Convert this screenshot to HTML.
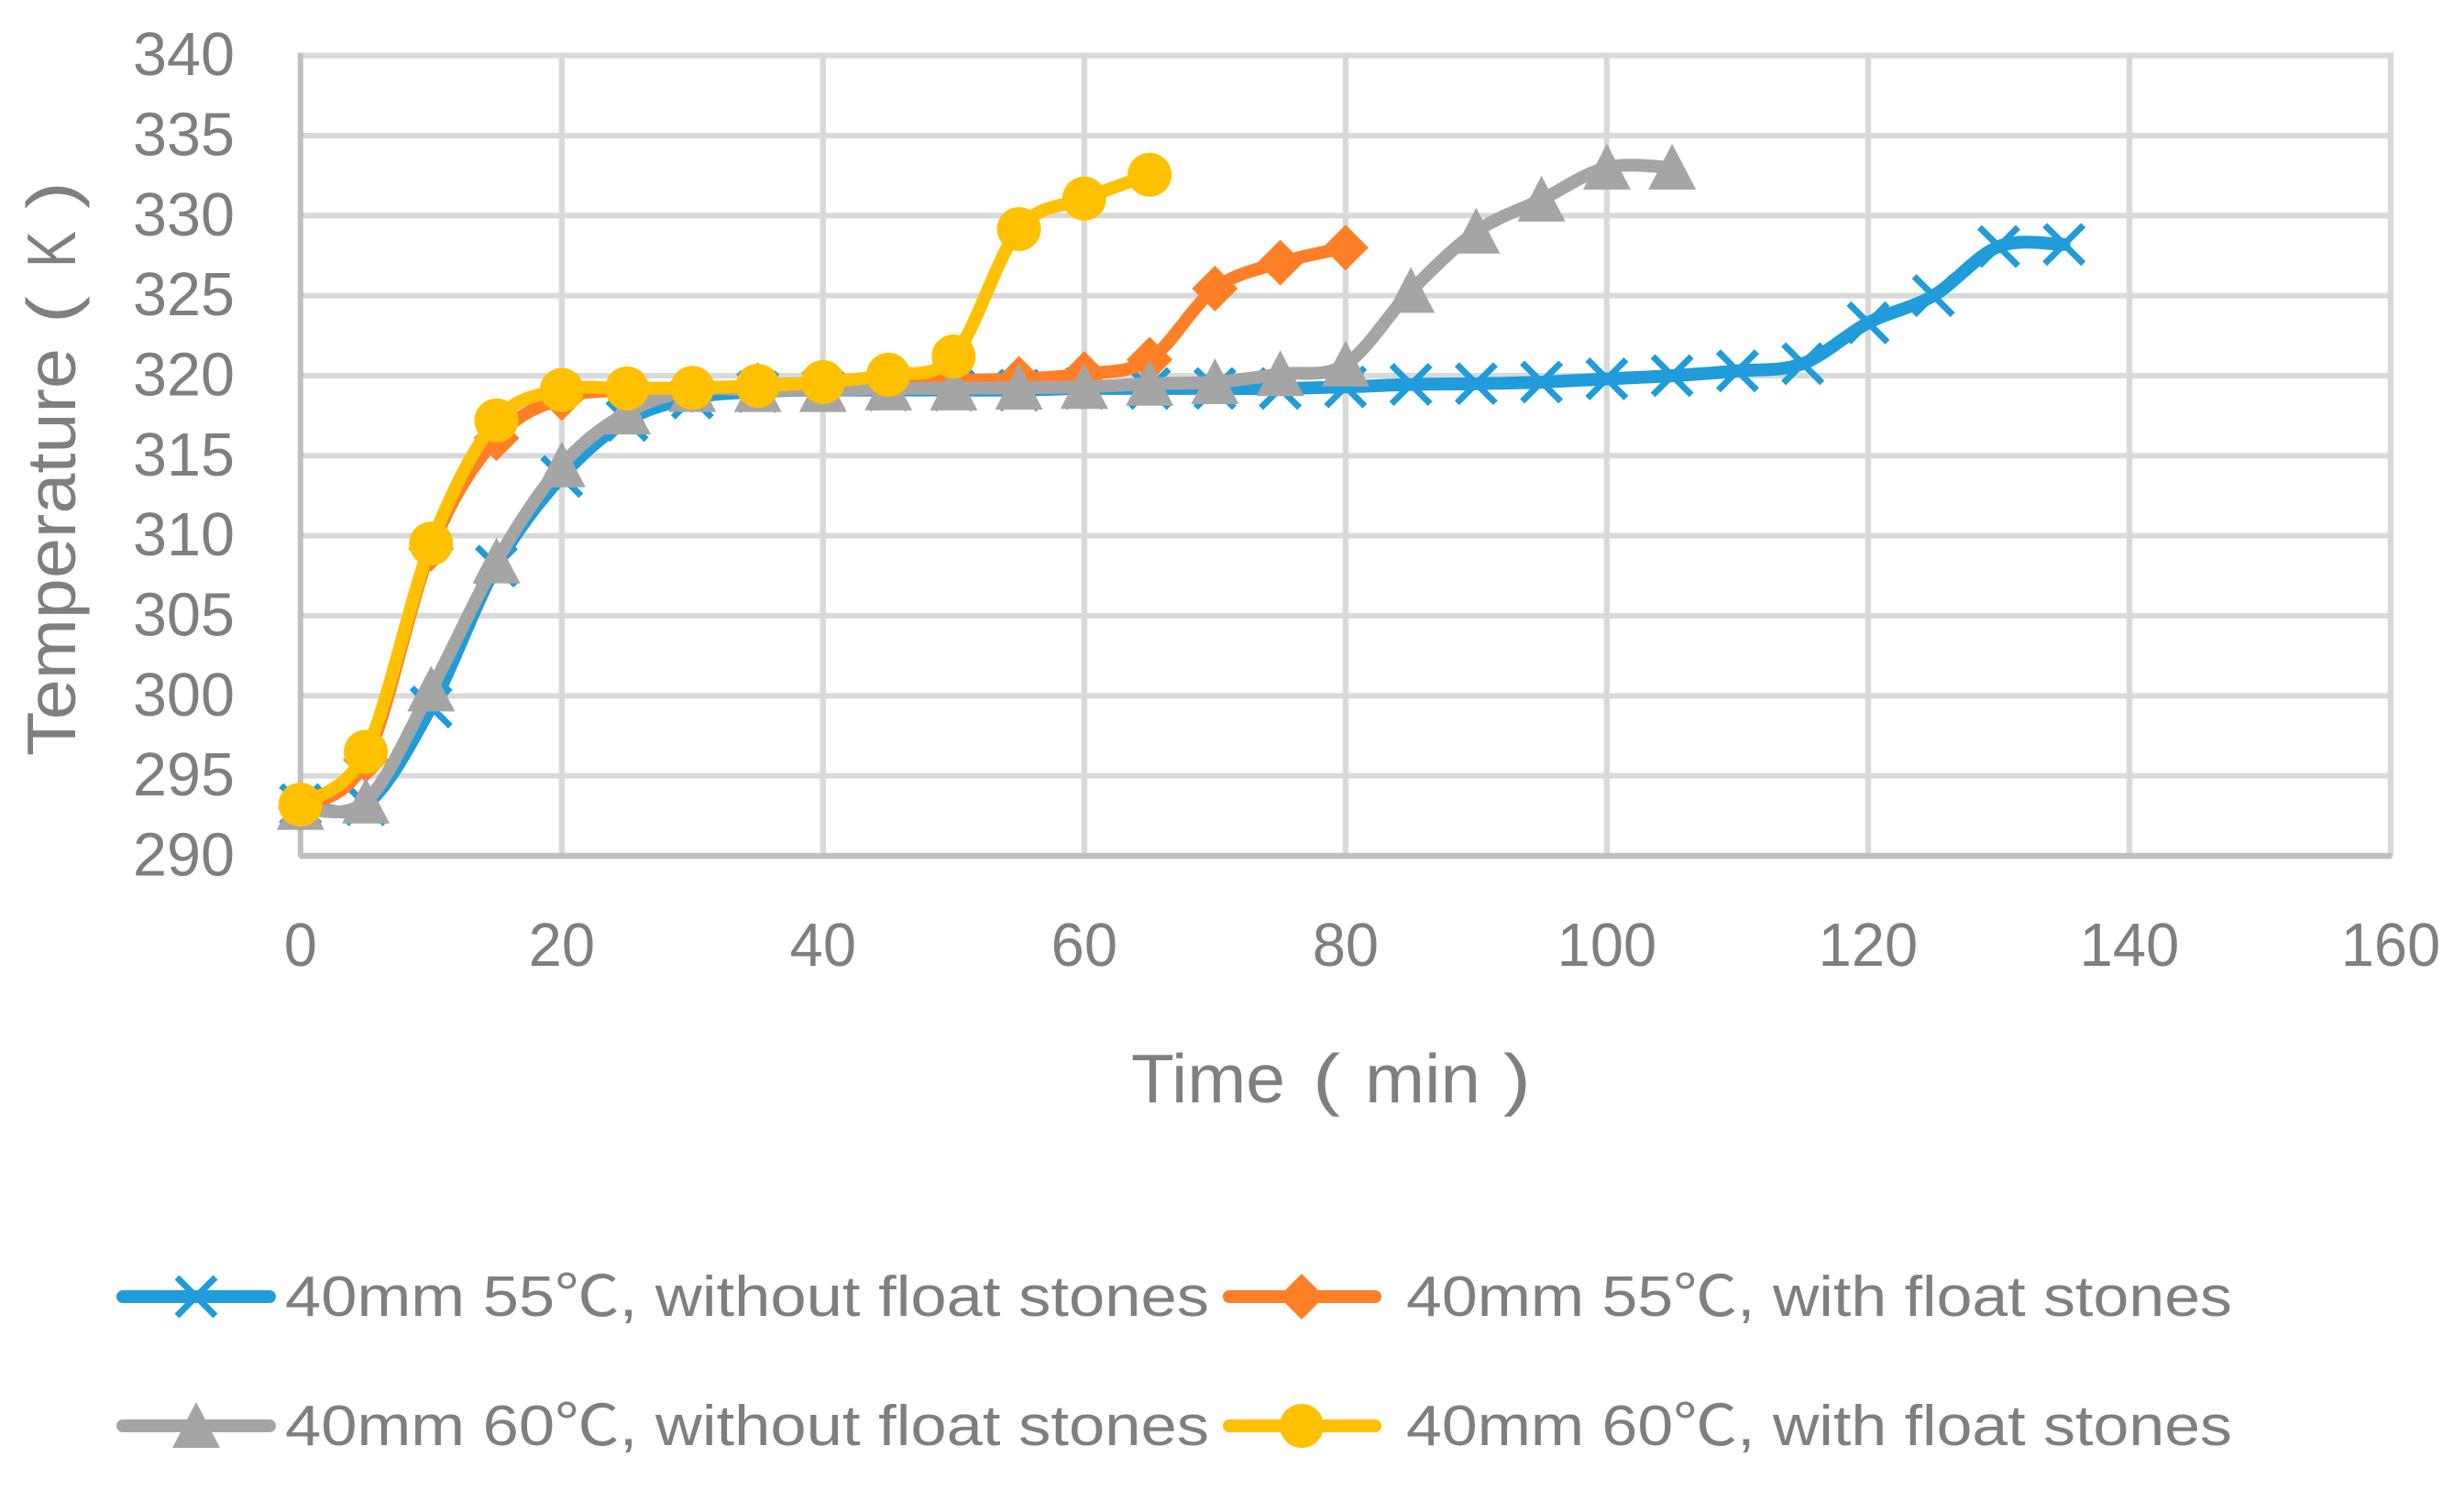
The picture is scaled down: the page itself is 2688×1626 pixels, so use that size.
<!DOCTYPE html>
<html lang="en">
<head>
<meta charset="utf-8">
<title>Temperature vs Time</title>
<style>
html,body{margin:0;padding:0;background:#fff;}
svg{display:block;}
text{font-family:"Liberation Sans","Noto Sans CJK SC",sans-serif;fill:#7f7f7f;}
</style>
</head>
<body>
<svg id="chart" xmlns="http://www.w3.org/2000/svg" width="2688" height="1626" viewBox="0 0 2688 1626">
  <rect x="0" y="0" width="2688" height="1626" fill="#ffffff"/>
  <g id="grid"></g>
  <g id="axes"></g>
  <g id="yticks"></g>
  <g id="xticks"></g>
  <g id="plot"></g>
  <text transform="translate(82,825) rotate(-90)" font-size="75"><tspan x="0" textLength="445" lengthAdjust="spacingAndGlyphs">Temperature</tspan><tspan x="472" textLength="30" lengthAdjust="spacingAndGlyphs">(</tspan><tspan x="533" textLength="40" lengthAdjust="spacingAndGlyphs">K</tspan><tspan x="597" textLength="30" lengthAdjust="spacingAndGlyphs">)</tspan></text>
  <text y="1203" font-size="75"><tspan x="1234" textLength="168" lengthAdjust="spacingAndGlyphs">Time</tspan><tspan x="1432" textLength="30" lengthAdjust="spacingAndGlyphs">(</tspan><tspan x="1489" textLength="126" lengthAdjust="spacingAndGlyphs">min</tspan><tspan x="1640" textLength="30" lengthAdjust="spacingAndGlyphs">)</tspan></text>
  <g id="legend"></g>
</svg>
<script>
const timesMin = [0,5,10,15,20,25,30,35,40,45,50,55,60,65,70,75,80,85,90,95,100,105,110,115,120,125,130,135];
const blueValues = [293.2,293.2,299.3,308.1,313.7,317.2,318.6,319,319.1,319.1,319.1,319.1,319.2,319.2,319.2,319.2,319.3,319.45,319.5,319.6,319.8,320,320.3,320.75,323.3,325,328.07,328.2];
const orangeValues = [293,296,309.2,316.1,318.6,319.1,319.1,319.4,319.55,319.7,319.7,319.8,320.1,321,325.44,327.06,328];
const grayValues = [293,293.4,300.4,308.4,314.4,317.7,319.1,319.1,319.1,319.2,319.2,319.25,319.3,319.5,319.6,320.1,320.7,325.3,329,331,333,333];
const yellowValues = [293.2,296.5,309.5,317.2,319.1,319.2,319.24,319.37,319.6,320.06,321.2,329.16,331.06,332.55];
const xTickLabels = [0,20,40,60,80,100,120,140,160];
const yTickLabels = [290,295,300,305,310,315,320,325,330,335,340];
const blueName = "40mm 55℃, without float stones";
const orangeName = "40mm 55℃, with float stones";
const grayName = "40mm 60℃, without float stones";
const yellowName = "40mm 60℃, with float stones";

const NS = "http://www.w3.org/2000/svg";
const PLOT = {left:327.8,right:2608,top:60.6,bottom:934};
const X_MIN = 0, X_MAX = 160, Y_MIN = 290, Y_MAX = 340;
const xScale = v => PLOT.left + (v - X_MIN) / (X_MAX - X_MIN) * (PLOT.right - PLOT.left);
const yScale = v => PLOT.bottom - (v - Y_MIN) / (Y_MAX - Y_MIN) * (PLOT.bottom - PLOT.top);
const COLORS = {blue:"#1f9cd9",orange:"#ff7f27",gray:"#a5a5a5",yellow:"#ffc000"};
const GRID = "#d9d9d9", AXIS = "#bfbfbf";

function make(tag, attrs, parent){
  const el = document.createElementNS(NS, tag);
  for (const k in attrs) el.setAttribute(k, attrs[k]);
  parent.appendChild(el);
  return el;
}

const gridG = document.getElementById("grid");
yTickLabels.forEach(v => {
  if (v === Y_MIN) return;
  const l = make("line",{x1:PLOT.left,x2:PLOT.right+3,y1:yScale(v),y2:yScale(v),stroke:GRID,"stroke-width":6},gridG);
  
  
});
xTickLabels.forEach(v => {
  if (v === X_MIN) return;
  const l = make("line",{x1:xScale(v),x2:xScale(v),y1:PLOT.top-3,y2:PLOT.bottom+1,stroke:GRID,"stroke-width":6.4},gridG);
  
  
});

const axesG = document.getElementById("axes");
const yAxis = make("line",{x1:PLOT.left,x2:PLOT.left,y1:PLOT.top-3,y2:PLOT.bottom+1,stroke:AXIS,"stroke-width":6},axesG);


const xAxis = make("line",{x1:PLOT.left-1,x2:PLOT.right+1,y1:PLOT.bottom,y2:PLOT.bottom,stroke:AXIS,"stroke-width":6.6},axesG);



const yTicksG = document.getElementById("yticks");
yTickLabels.forEach(v => {
  const t = make("text",{x:145,y:yScale(v)+21.5,"font-size":67,textLength:111,lengthAdjust:"spacingAndGlyphs"},yTicksG);
  t.textContent = String(v);
  
  
});
const xTicksG = document.getElementById("xticks");
xTickLabels.forEach(v => {
  const s = String(v), w = s.length * 36.2;
  const t = make("text",{x:xScale(v)-w/2,y:1054,"font-size":67,textLength:w,lengthAdjust:"spacingAndGlyphs"},xTicksG);
  t.textContent = s;
  
  
});

function smoothPath(pts){
  let d = "M" + pts[0][0] + " " + pts[0][1];
  for (let i = 0; i < pts.length - 1; i++){
    const p0 = pts[Math.max(i-1,0)], p1 = pts[i], p2 = pts[i+1], p3 = pts[Math.min(i+2,pts.length-1)];
    const c1x = p1[0] + (p2[0]-p0[0])/6, c1y = p1[1] + (p2[1]-p0[1])/6;
    const c2x = p2[0] - (p3[0]-p1[0])/6, c2y = p2[1] - (p3[1]-p1[1])/6;
    d += " C" + c1x + " " + c1y + " " + c2x + " " + c2y + " " + p2[0] + " " + p2[1];
  }
  return d;
}

function drawMarker(kind, cx, cy, color, parent){
  const r = 24;
  let m;
  if (kind === "x"){
    const a = r - 3;
    m = make("path",{d:`M${cx-a} ${cy-a}L${cx+a} ${cy+a}M${cx-a} ${cy+a}L${cx+a} ${cy-a}`,stroke:color,"stroke-width":7,fill:"none"},parent);
  } else if (kind === "diamond"){
    m = make("polygon",{points:`${cx},${cy-r-1} ${cx+r+1},${cy} ${cx},${cy+r+1} ${cx-r-1},${cy}`,fill:color},parent);
  } else if (kind === "triangle"){
    m = make("polygon",{points:`${cx},${cy-r-2} ${cx+r+2},${cy+r} ${cx-r-2},${cy+r}`,fill:color},parent);
  } else {
    m = make("circle",{cx:cx,cy:cy,r:r,fill:color},parent);
  }
  return m;
}

function drawSeries(values, color, kind){
  const plot = document.getElementById("plot");
  const g = make("g",{},plot);
  
  
  const pts = values.map((v,i) => [xScale(timesMin[i]), yScale(v)]);
  const path = make("path",{d:smoothPath(pts),fill:"none",stroke:color,"stroke-width":14,"stroke-linecap":"round","stroke-linejoin":"round"},g);
  
  
  pts.forEach(p => {
    const m = drawMarker(kind, p[0], p[1], color, g);
    
    
  });
}

drawSeries(blueValues, COLORS.blue, "x");
drawSeries(orangeValues, COLORS.orange, "diamond");
drawSeries(grayValues, COLORS.gray, "triangle");
drawSeries(yellowValues, COLORS.yellow, "circle");

function drawLegend(label, color, kind, x1, x2, mx, tx, tw, y, ty){
  const legend = document.getElementById("legend");
  const g = make("g",{},legend);
  
  
  const l = make("line",{x1:x1+7,x2:x2-7,y1:y,y2:y,stroke:color,"stroke-width":14,"stroke-linecap":"round"},g);
  
  
  const m = drawMarker(kind, mx, y, color, g);
  
  
  const t = make("text",{x:tx,y:ty,"font-size":62,textLength:tw,lengthAdjust:"spacingAndGlyphs"},g);
  t.textContent = label;
  
  
}
drawLegend(blueName, COLORS.blue, "x", 127, 301, 214, 311, 1008, 1415, 1436);
drawLegend(orangeName, COLORS.orange, "diamond", 1334, 1507, 1420, 1534, 901, 1415, 1436);
drawLegend(grayName, COLORS.gray, "triangle", 127, 301, 214, 311, 1008, 1556, 1577);
drawLegend(yellowName, COLORS.yellow, "circle", 1334, 1507, 1420, 1534, 901, 1556, 1577);
</script>
</body>
</html>
